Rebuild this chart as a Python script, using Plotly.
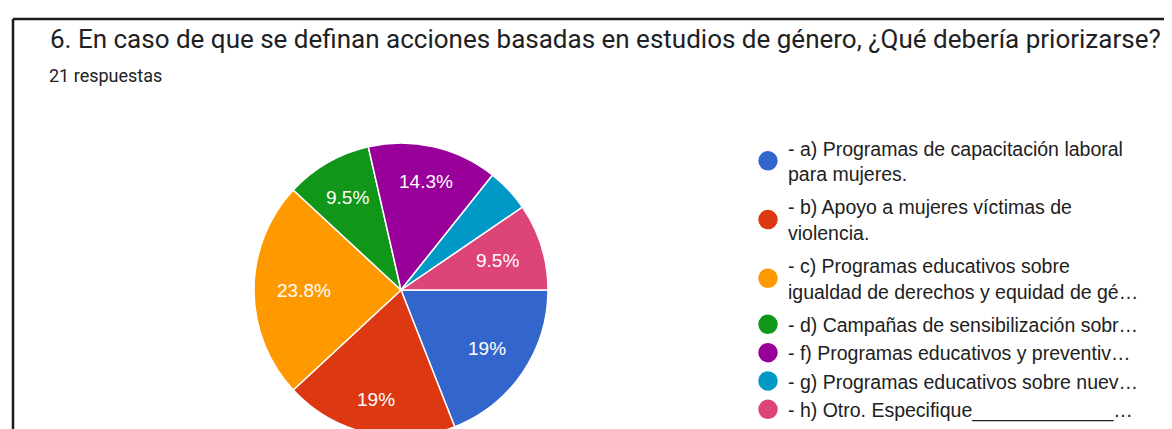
import math
import plotly.graph_objects as go

# ── data ──
TITLE = "6. En caso de que se definan acciones basadas en estudios de género, ¿Qué debería priorizarse?"
SUBTITLE = "21 respuestas"
labels = [
    "- a) Programas de capacitación laboral<br>para mujeres.",
    "- b) Apoyo a mujeres víctimas de<br>violencia.",
    "- c) Programas educativos sobre<br>igualdad de derechos y equidad de gé…",
    "- d) Campañas de sensibilización sobr…",
    "- f) Programas educativos y preventiv…",
    "- g) Programas educativos sobre nuev…",
    "- h) Otro. Especifique_____________…",
]
counts = [4, 4, 5, 2, 3, 1, 2]
colors = ["#3366CC", "#DC3912", "#FF9900", "#109618", "#990099", "#0099C6", "#DD4477"]

TEXT = "#212121"
W, H = 1172, 429
LABEL_FONT = 19

# pie geometry (pixels): diameter 294, touching the bottom edge
diam = 294
cx, cy = 393, H - diam / 2
R = diam / 2

total = sum(counts)
pct_text = []
for c in counts:
    p = c / total * 100
    s = f"{p:.1f}".rstrip("0").rstrip(".") + "%"
    pct_text.append(s if p >= 5 else "")

fig = go.Figure()

fig.add_trace(go.Pie(
    values=counts,
    labels=labels,
    textinfo="none",
    marker=dict(colors=colors, line=dict(color="white", width=1.5)),
    sort=False,
    direction="clockwise",
    rotation=90,
    showlegend=False,
    hoverinfo="label+percent",
    domain=dict(x=[(cx - R) / W, (cx + R) / W], y=[0, diam / H]),
))

# slice labels, google-charts style: outer edge of text box at ~0.84 R
char_w = {".": 0.278, "%": 0.889}
acc = 0
for c, t in zip(counts, pct_text):
    mid = (acc + c / 2) / total * 2 * math.pi  # from 3 o'clock, clockwise
    acc += c
    if not t:
        continue
    hw = sum(char_w.get(ch, 0.556) for ch in t) * LABEL_FONT / 2
    hh = 0.36 * LABEL_FONT
    ca, sa = math.cos(mid), math.sin(mid)
    r = 0.84 * R - (hw * abs(ca) + hh * abs(sa))
    px, py = cx + r * ca, cy + r * sa
    fig.add_annotation(
        x=px / W, y=1 - py / H, xref="paper", yref="paper",
        xanchor="center", yanchor="middle", showarrow=False, text=t,
        font=dict(family="Liberation Sans, Arial, sans-serif", size=LABEL_FONT, color="white"),
    )

# legend entries with round symbols
for i, (name, col) in enumerate(zip(labels, colors)):
    fig.add_trace(go.Scatter(
        x=[None], y=[None], mode="markers", name=name,
        marker=dict(symbol="circle", size=16, color=col, line=dict(color=col, width=3.5)),
        legendgroup=f"g{min(i, 3)}", hoverinfo="skip",
    ))

fig.update_layout(
    width=W, height=H,
    margin=dict(l=0, r=0, t=0, b=0),
    paper_bgcolor="white",
    plot_bgcolor="white",
    xaxis=dict(visible=False),
    yaxis=dict(visible=False),
    showlegend=True,
    legend=dict(
        x=740 / W, y=1 - 121 / H, xanchor="left", yanchor="top",
        font=dict(family="Liberation Sans, Arial, sans-serif", size=19.5, color=TEXT),
        bgcolor="rgba(0,0,0,0)", tracegroupgap=5,
    ),
)

fig.add_annotation(
    x=40 / W, y=1 - 31 / H, xref="paper", yref="paper", xanchor="left", yanchor="middle",
    text=TITLE, showarrow=False,
    font=dict(family="Roboto, sans-serif", size=26, color="#202124"),
)
fig.add_annotation(
    x=39 / W, y=1 - 68 / H, xref="paper", yref="paper", xanchor="left", yanchor="middle",
    text=SUBTITLE, showarrow=False,
    font=dict(family="Roboto, sans-serif", size=18, color="#202124"),
)

# card frame (left + top edges)
fig.add_shape(type="line", xref="paper", yref="paper", x0=5 / W, x1=1, y0=1 - 11 / H, y1=1 - 11 / H,
              line=dict(color="#1a1a1a", width=2.5))
fig.add_shape(type="line", xref="paper", yref="paper", x0=5 / W, x1=5 / W, y0=0, y1=1 - 11 / H,
              line=dict(color="#1a1a1a", width=2.5))

fig.write_html("out.html")
